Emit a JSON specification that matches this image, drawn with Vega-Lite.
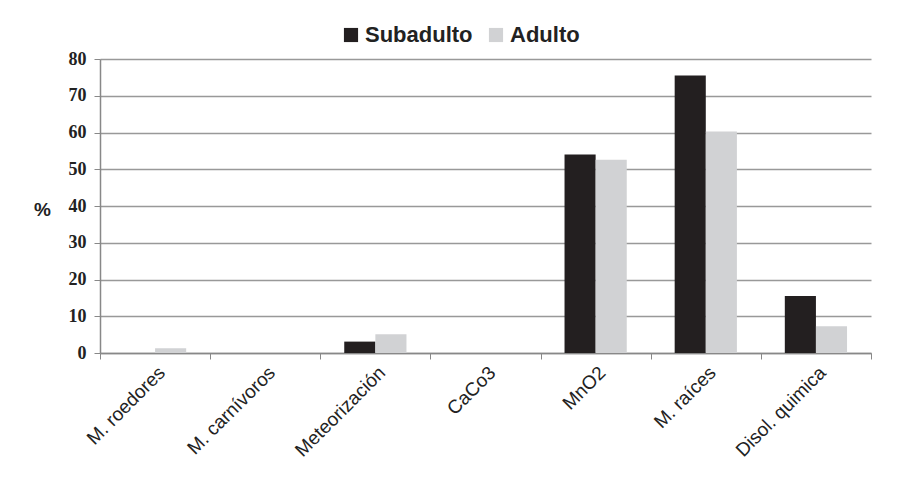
{
  "$schema": "https://vega.github.io/schema/vega-lite/v6.json",
  "autosize": "none",
  "padding": {"left": 100, "top": 59, "right": 34, "bottom": 134},
  "width": 771,
  "height": 294,
  "background": "white",
  "data": {"values": [
    {"cat": "M. roedores", "grupo": "Subadulto", "pct": 0},
    {"cat": "M. roedores", "grupo": "Adulto", "pct": 1.3},
    {"cat": "M. carnívoros", "grupo": "Subadulto", "pct": 0},
    {"cat": "M. carnívoros", "grupo": "Adulto", "pct": 0},
    {"cat": "Meteorización", "grupo": "Subadulto", "pct": 3.1},
    {"cat": "Meteorización", "grupo": "Adulto", "pct": 5.1},
    {"cat": "CaCo3", "grupo": "Subadulto", "pct": 0},
    {"cat": "CaCo3", "grupo": "Adulto", "pct": 0},
    {"cat": "MnO2", "grupo": "Subadulto", "pct": 54.0},
    {"cat": "MnO2", "grupo": "Adulto", "pct": 52.6},
    {"cat": "M. raíces", "grupo": "Subadulto", "pct": 75.5},
    {"cat": "M. raíces", "grupo": "Adulto", "pct": 60.3},
    {"cat": "Disol. quimica", "grupo": "Subadulto", "pct": 15.5},
    {"cat": "Disol. quimica", "grupo": "Adulto", "pct": 7.3}
  ]},
  "mark": {"type": "bar"},
  "encoding": {
    "x": {
      "field": "cat", "type": "nominal", "sort": null,
      "scale": {"paddingInner": 0, "paddingOuter": 0},
      "axis": {
        "title": null, "labelAngle": -45, "labelFont": "Liberation Sans", "labelFontSize": 19,
        "labelColor": "#222222", "tickBand": "extent", "tickColor": "#888888", "tickSize": 6,
        "domainColor": "#888888", "domainWidth": 1.5, "labelPadding": 4, "grid": false
      }
    },
    "xOffset": {
      "field": "grupo", "type": "nominal", "sort": ["Subadulto", "Adulto"],
      "scale": {"paddingInner": 0, "paddingOuter": 0.77}
    },
    "y": {
      "field": "pct", "type": "quantitative",
      "scale": {"domain": [0, 80], "nice": false},
      "axis": {
        "title": "%", "titleAngle": 0, "titleFont": "Liberation Sans", "titleFontSize": 19,
        "titleFontWeight": "bold", "titleX": -58, "titleY": 160, "titleAlign": "center", "titleColor": "#222222",
        "values": [0, 10, 20, 30, 40, 50, 60, 70, 80],
        "labelFont": "Liberation Serif", "labelFontSize": 18, "labelFontWeight": "bold", "labelColor": "#222222",
        "labelPadding": 8, "tickColor": "#888888", "tickSize": 6,
        "domainColor": "#888888", "domainWidth": 1.5,
        "gridColor": "#999999", "gridWidth": 1.5
      }
    },
    "color": {
      "field": "grupo", "type": "nominal", "sort": ["Subadulto", "Adulto"],
      "scale": {"domain": ["Subadulto", "Adulto"], "range": ["#231f20", "#d1d2d4"]},
      "legend": {
        "title": null, "orient": "none", "direction": "horizontal", "legendX": 240, "legendY": -35,
        "symbolType": "square", "symbolSize": 200, "symbolStrokeWidth": 0,
        "labelFont": "Liberation Sans", "labelFontSize": 22, "labelFontWeight": "bold", "labelColor": "#222222",
        "labelOffset": 3, "columnPadding": 12
      }
    }
  },
  "config": {"view": {"stroke": null}}
}
